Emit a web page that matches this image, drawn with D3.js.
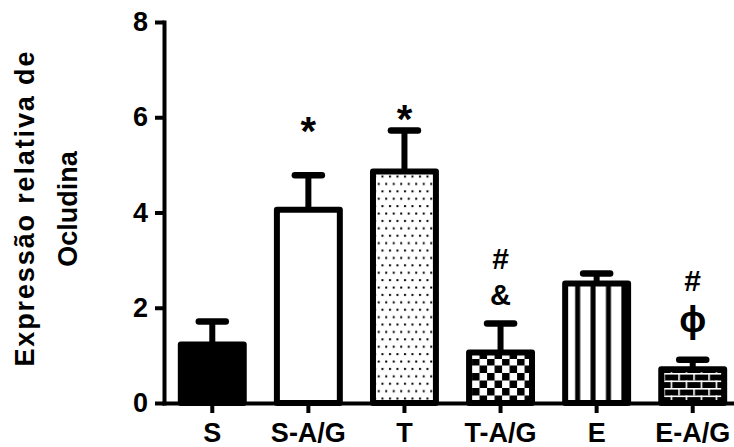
<!DOCTYPE html>
<html>
<head>
<meta charset="utf-8">
<script src="https://cdn.jsdelivr.net/npm/d3@7"></script>
<style>
  html, body { margin: 0; padding: 0; background: #fff; }
  svg { display: block; }
  text { font-family: "Liberation Sans", Arial, sans-serif; font-weight: bold; fill: #000; }
</style>
</head>
<body>
<svg id="chart" width="734" height="447"></svg>
<script>
// Groups, mean relative occludin expression and upper error (SEM)
const categories = ["S", "S-A/G", "T", "T-A/G", "E", "E-A/G"];
const means      = [1.23, 4.06, 4.86, 1.06, 2.51, 0.71];
const errors     = [0.48, 0.72, 0.86, 0.61, 0.21, 0.20];
const yTicks     = [0, 2, 4, 6, 8];

// Significance symbols and the level (in axis units) they sit at
const markCats   = ["S-A/G", "T", "T-A/G", "T-A/G", "E-A/G", "E-A/G"];
const markText   = ["*", "*", "#", "&", "#", "\u03D5"];
const markLevels = [5.86, 6.11, 3.03, 2.27, 2.58, 1.70];

// Fill used for each group
const fills = ["solid", "white", "dots", "checker", "stripes", "bricks"];

const svg = d3.select("#chart");
svg.append("rect").attr("width", 734).attr("height", 447).attr("fill", "#fff");

const y = d3.scaleLinear().domain([0, 8]).range([403, 22]);
const x = d3.scaleBand().domain(categories).range([164, 741])
  .paddingInner(0.345).paddingOuter(0.175);

// ---- hatch patterns ----
const defs = svg.append("defs");

const dots = defs.append("pattern").attr("id", "dots")
  .attr("patternUnits", "userSpaceOnUse").attr("width", 7.5).attr("height", 14.8)
  .attr("x", x("T")).attr("y", y(means[2]));
dots.append("rect").attr("width", 7.5).attr("height", 14.8).attr("fill", "#fff");
dots.append("rect").attr("x", 1).attr("y", 4).attr("width", 2).attr("height", 2).attr("fill", "#000");
dots.append("rect").attr("x", 4.75).attr("y", 11.4).attr("width", 2).attr("height", 2).attr("fill", "#000");

const checker = defs.append("pattern").attr("id", "checker")
  .attr("patternUnits", "userSpaceOnUse").attr("width", 15).attr("height", 15)
  .attr("x", x("T-A/G") + 3).attr("y", 403);
checker.append("rect").attr("width", 15).attr("height", 15).attr("fill", "#fff");
checker.append("rect").attr("width", 7.5).attr("height", 7.5).attr("fill", "#000");
checker.append("rect").attr("x", 7.5).attr("y", 7.5).attr("width", 7.5).attr("height", 7.5).attr("fill", "#000");

const stripes = defs.append("pattern").attr("id", "stripes")
  .attr("patternUnits", "userSpaceOnUse").attr("width", 15.4).attr("height", 10)
  .attr("x", x("E")).attr("y", 0);
stripes.append("rect").attr("width", 15.4).attr("height", 10).attr("fill", "#fff");
stripes.append("rect").attr("x", 10).attr("width", 5).attr("height", 10).attr("fill", "#000");

const bricks = defs.append("pattern").attr("id", "bricks")
  .attr("patternUnits", "userSpaceOnUse").attr("width", 15).attr("height", 15)
  .attr("x", x("E-A/G") + 2).attr("y", 403);
bricks.append("rect").attr("width", 15).attr("height", 15).attr("fill", "#000");
bricks.append("rect").attr("x", 0).attr("y", 0).attr("width", 15).attr("height", 1.6).attr("fill", "#fff");
bricks.append("rect").attr("x", 0).attr("y", 7.5).attr("width", 15).attr("height", 1.6).attr("fill", "#fff");
bricks.append("rect").attr("x", 0).attr("y", 0).attr("width", 1.6).attr("height", 7.5).attr("fill", "#fff");
bricks.append("rect").attr("x", 7.5).attr("y", 7.5).attr("width", 1.6).attr("height", 7.5).attr("fill", "#fff");

const fillOf = f => f === "solid" ? "#000" : f === "white" ? "#fff" : `url(#${f})`;

// ---- bars ----
const data = categories.map((c, i) => ({ c, m: means[i], e: errors[i], f: fills[i] }));

svg.append("g").selectAll("rect").data(data).join("rect")
  .attr("x", d => x(d.c))
  .attr("y", d => y(d.m))
  .attr("width", x.bandwidth())
  .attr("height", d => y(0) - y(d.m))
  .attr("fill", d => fillOf(d.f))
  .attr("stroke", "#000")
  .attr("stroke-width", 6)
  .attr("stroke-linejoin", "round");

// ---- upper error bars ----
const eb = svg.append("g").attr("stroke", "#000");
eb.selectAll("line.v").data(data).join("line").attr("class", "v")
  .attr("x1", d => x(d.c) + x.bandwidth() / 2)
  .attr("x2", d => x(d.c) + x.bandwidth() / 2)
  .attr("y1", d => y(d.m))
  .attr("y2", d => y(d.m + d.e))
  .attr("stroke-width", 6);
eb.selectAll("line.cap").data(data).join("line").attr("class", "cap")
  .attr("x1", d => x(d.c) + x.bandwidth() / 2 - 13.5)
  .attr("x2", d => x(d.c) + x.bandwidth() / 2 + 13.5)
  .attr("y1", d => y(d.m + d.e))
  .attr("y2", d => y(d.m + d.e))
  .attr("stroke-width", 6.5)
  .attr("stroke-linecap", "round");

// ---- axes ----
const yAxis = svg.append("g").attr("transform", "translate(164,0)")
  .call(d3.axisLeft(y).tickValues(yTicks).tickFormat(d3.format("d"))
    .tickSize(9).tickSizeOuter(0).tickPadding(7));
const xAxis = svg.append("g").attr("transform", "translate(0,403)")
  .call(d3.axisBottom(x).tickSize(10).tickSizeOuter(0).tickPadding(10));

[yAxis, xAxis].forEach(g => {
  g.select(".domain").attr("stroke", "#000").attr("stroke-width", 4)
    .attr("stroke-linecap", "square");
  g.selectAll(".tick line").attr("stroke", "#000").attr("stroke-width", 4);
  g.selectAll(".tick text").attr("font-size", 27).attr("fill", "#000")
    .attr("font-family", '"Liberation Sans", Arial, sans-serif').attr("font-weight", "bold");
});

// ---- y axis title ----
const title = svg.append("g").attr("transform", "translate(0,209) rotate(-90)")
  .attr("text-anchor", "middle").attr("font-size", 27);
title.append("text").attr("x", 0).attr("y", 34)
  .attr("textLength", 315).attr("lengthAdjust", "spacing")
  .text("Expressão relativa de");
title.append("text").attr("x", 0).attr("y", 77).text("Ocludina");

// ---- significance symbols ----
const symSize = { "*": 40, "#": 30, "&": 29, "\u03D5": 36 };
const symDy   = { "*": "0.53em", "#": "0.35em", "&": "0.36em", "\u03D5": "0.27em" };
svg.append("g").attr("text-anchor", "middle")
  .selectAll("text").data(markText.map((t, i) => ({ t, c: markCats[i], v: markLevels[i] })))
  .join("text")
  .attr("x", d => x(d.c) + x.bandwidth() / 2)
  .attr("y", d => y(d.v))
  .attr("dy", d => symDy[d.t])
  .attr("font-size", d => symSize[d.t])
  .attr("font-weight", d => d.t === "\u03D5" ? "normal" : "bold")
  .attr("font-family", d => d.t === "\u03D5" ? '"DejaVu Sans", sans-serif' : '"Liberation Sans", Arial, sans-serif')
  .text(d => d.t);
</script>
</body>
</html>
